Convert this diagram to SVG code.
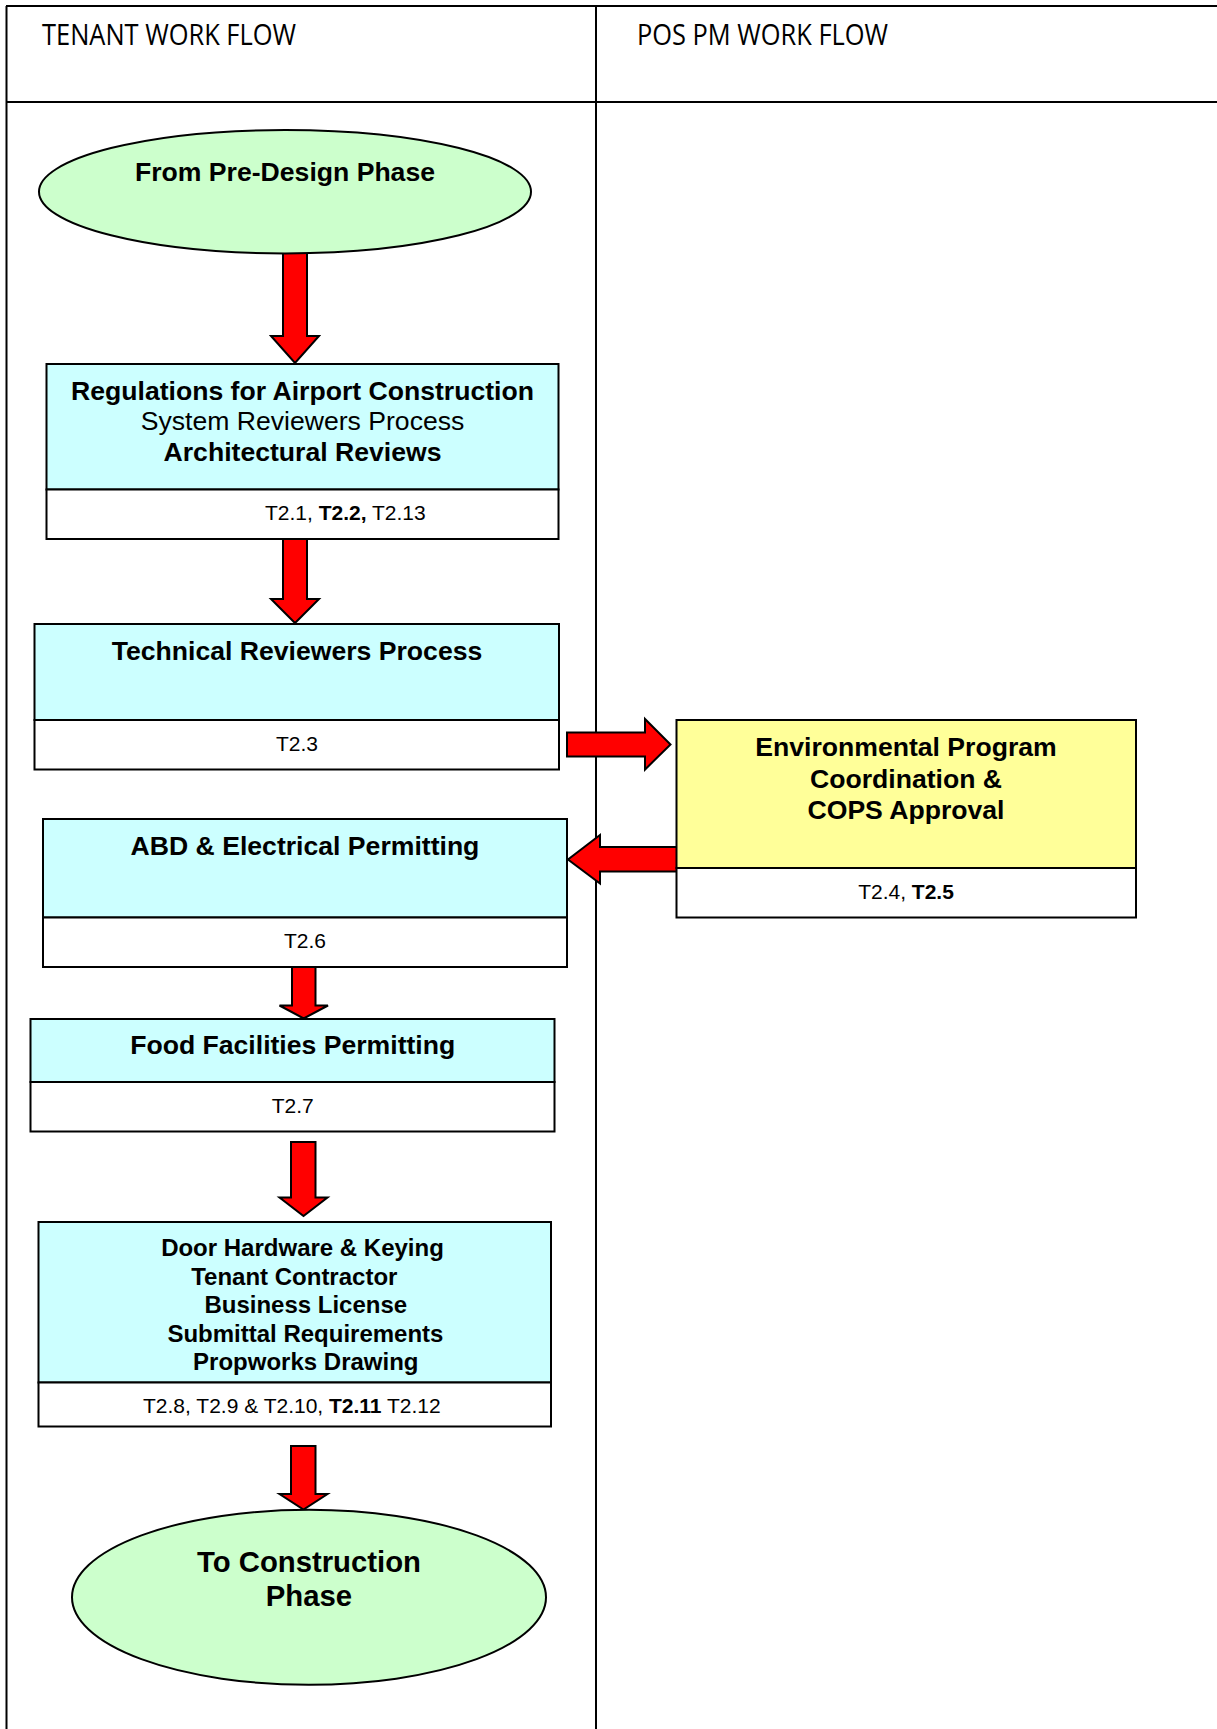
<svg xmlns="http://www.w3.org/2000/svg" width="1217" height="1729" viewBox="0 0 1217 1729">
  <style>
    .lane { stroke: #000; stroke-width: 2; fill: none; }
    .head { font-family: "Open Sans", "Liberation Sans", sans-serif; font-size: 29px; fill: #000; }
    .term { fill: #CCFFCC; stroke: #000; stroke-width: 2; }
    .proc { fill: #CCFFFF; stroke: #000; stroke-width: 2; }
    .env { fill: #FFFF99; stroke: #000; stroke-width: 2; }
    .ref { fill: #FFFFFF; stroke: #000; stroke-width: 2; }
    .arrow { fill: #FF0000; stroke: #000; stroke-width: 2; stroke-linejoin: miter; }
    .t { font-family: "Liberation Sans", Arial, sans-serif; fill: #000; text-anchor: middle; }
    .b { font-weight: bold; font-size: 26.6px; }
    .r { font-size: 26.6px; }
    .s { font-size: 21px; }
    .sd { font-size: 24px; font-weight: bold; }
    .big { font-size: 29.3px; font-weight: bold; }
  </style>

  <!-- swimlane frame -->
  <g id="lanes">
    <line class="lane" x1="6" y1="6" x2="1217" y2="6"/>
    <line class="lane" x1="6" y1="102" x2="1217" y2="102"/>
    <line class="lane" x1="6.5" y1="6" x2="6.5" y2="1729"/>
    <line class="lane" x1="596" y1="6" x2="596" y2="1729"/>
    <text class="head" x="42" y="45" textLength="254" lengthAdjust="spacingAndGlyphs">TENANT WORK FLOW</text>
    <text class="head" x="637" y="45" textLength="251" lengthAdjust="spacingAndGlyphs">POS PM WORK FLOW</text>
  </g>

  <!-- block arrows between steps -->
  <g id="connectors">
    <polygon class="arrow" points="283,240 307,240 307,336 319,336 295,363 271,336 283,336"/>
    <polygon class="arrow" points="283,539 307,539 307,599 319,599 295,623 271,599 283,599"/>
    <polygon class="arrow" points="567,732.5 645,732.5 645,719 670.5,744.5 645,769.5 645,756.5 567,756.5"/>
    <polygon class="arrow" points="680,847 600,847 600,835 568,859.5 600,883.5 600,871.5 680,871.5"/>
    <polygon class="arrow" points="292,967 315.5,967 315.5,1005.5 328,1005.5 303.7,1018.5 279.5,1005.5 292,1005.5"/>
    <polygon class="arrow" points="291,1142 315.5,1142 315.5,1197.5 327.5,1197.5 303.5,1216 279.5,1197.5 291,1197.5"/>
    <polygon class="arrow" points="291,1446 315.5,1446 315.5,1494 327.5,1494 303.5,1509.5 279.5,1494 291,1494"/>
  </g>

  <g id="start">
    <ellipse class="term" cx="285" cy="191.7" rx="246" ry="61.7"/>
    <text class="t b" x="285" y="181">From Pre-Design Phase</text>
  </g>

  <g id="regulations">
    <rect class="proc" x="46.5" y="364" width="512" height="125.5"/>
    <rect class="ref" x="46.5" y="489.5" width="512" height="49.5"/>
    <text class="t b" x="302.5" y="400">Regulations for Airport Construction</text>
    <text class="t r" x="302.5" y="430">System Reviewers Process</text>
    <text class="t b" x="302.5" y="461">Architectural Reviews</text>
    <text class="t s" x="265" y="520" style="text-anchor:start">T2.1, <tspan font-weight="bold">T2.2,</tspan> T2.13</text>
  </g>

  <g id="technical">
    <rect class="proc" x="34.5" y="624" width="524.5" height="96"/>
    <rect class="ref" x="34.5" y="720" width="524.5" height="49.5"/>
    <text class="t b" x="297" y="660">Technical Reviewers Process</text>
    <text class="t s" x="297" y="751">T2.3</text>
  </g>

  <g id="environmental">
    <rect class="env" x="676.5" y="720" width="459.5" height="148"/>
    <rect class="ref" x="676.5" y="868" width="459.5" height="49.5"/>
    <text class="t b" x="906" y="755.5">Environmental Program</text>
    <text class="t b" x="906" y="787.5">Coordination &amp;</text>
    <text class="t b" x="906" y="818.5">COPS Approval</text>
    <text class="t s" x="906" y="898.5">T2.4, <tspan font-weight="bold">T2.5</tspan></text>
  </g>

  <g id="abd">
    <rect class="proc" x="43" y="819" width="524" height="98.5"/>
    <rect class="ref" x="43" y="917.5" width="524" height="49.5"/>
    <text class="t b" x="305" y="855">ABD &amp; Electrical Permitting</text>
    <text class="t s" x="305" y="948">T2.6</text>
  </g>

  <g id="food">
    <rect class="proc" x="30.5" y="1019" width="524" height="63"/>
    <rect class="ref" x="30.5" y="1082" width="524" height="49.5"/>
    <text class="t b" x="292.7" y="1054">Food Facilities Permitting</text>
    <text class="t s" x="292.7" y="1112.5">T2.7</text>
  </g>

  <g id="door">
    <rect class="proc" x="38.5" y="1222" width="512.5" height="160.5"/>
    <rect class="ref" x="38.5" y="1382.5" width="512.5" height="44"/>
    <text class="t sd" x="302.5" y="1255.5">Door Hardware &amp; Keying</text>
    <text class="t sd" x="294.3" y="1284.5">Tenant Contractor</text>
    <text class="t sd" x="305.8" y="1313">Business License</text>
    <text class="t sd" x="305.4" y="1341.5">Submittal Requirements</text>
    <text class="t sd" x="305.8" y="1369.5">Propworks Drawing</text>
    <text class="t s" x="143" y="1413" style="text-anchor:start">T2.8, T2.9 &amp; T2.10, <tspan font-weight="bold">T2.11</tspan> T2.12</text>
  </g>

  <g id="end">
    <ellipse class="term" cx="309" cy="1597.3" rx="237" ry="87.5"/>
    <text class="t big" x="309" y="1572">To Construction</text>
    <text class="t big" x="309" y="1606">Phase</text>
  </g>
</svg>
